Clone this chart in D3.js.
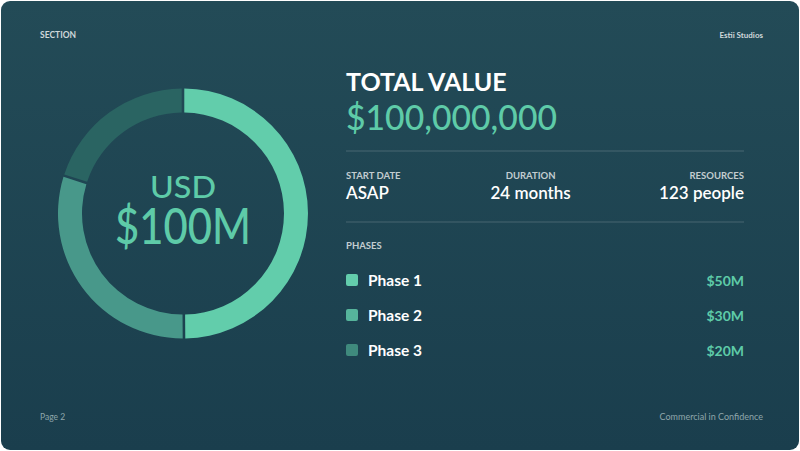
<!DOCTYPE html>
<html lang="en">
<head>
<meta charset="UTF-8">
<title>Total Value</title>
<script src="https://cdnjs.cloudflare.com/ajax/libs/d3/7.8.5/d3.min.js"></script>
<style>
    body { margin: 0; background: #ffffff; }
    svg { display: block; font-family: Lato, "Noto Sans", sans-serif; }
</style>
</head>
<body>
<svg id="chart" width="800" height="451"></svg>
<script>
    // data
    const phases = ["Phase 1", "Phase 2", "Phase 3"];
    const phaseValues = [50, 30, 20]; // $M
    const ringColors = ["#62cdab", "#48988a", "#2a6462"];
    const swatchColors = ["#63cdac", "#56b49b", "#3f8a7d"];
    const totalValue = 100000000;
    const statLabels = ["START DATE", "DURATION", "RESOURCES"];
    const statValues = ["ASAP", "24 months", "123 people"];

    const W = 800, H = 451;
    const green = "#5ecba8";
    const svg = d3.select("#chart");

    // card background
    const defs = svg.append("defs");
    const grad = defs.append("linearGradient")
        .attr("id", "bg").attr("x1", 0).attr("y1", 0).attr("x2", 0).attr("y2", 1);
    grad.append("stop").attr("offset", "0%").attr("stop-color", "#234b57");
    grad.append("stop").attr("offset", "100%").attr("stop-color", "#1a3e4d");

    svg.append("rect")
        .attr("x", 1).attr("y", 1)
        .attr("width", W - 2).attr("height", H - 2)
        .attr("rx", 9)
        .attr("fill", "url(#bg)");

    // header / footer
    svg.append("text").attr("x", 40).attr("y", 38)
        .attr("font-size", 8.5).attr("font-weight", 700).attr("fill", "#cfd8da")
        .text("SECTION");
    svg.append("text").attr("x", 763).attr("y", 38).attr("text-anchor", "end")
        .attr("font-size", 8).attr("font-weight", 700).attr("fill", "#cfd8da")
        .text("Estii Studios");
    svg.append("text").attr("x", 40).attr("y", 420)
        .attr("font-size", 8.5).attr("fill", "#8fa6ab")
        .text("Page 2");
    svg.append("text").attr("x", 763).attr("y", 420).attr("text-anchor", "end")
        .attr("font-size", 9).attr("fill", "#8fa6ab")
        .text("Commercial in Confidence");

    // donut
    const cx = 183, cy = 213.5;
    const pie = d3.pie().sort(null).value(d => d).padAngle(0.016);
    const arc = d3.arc().innerRadius(101).outerRadius(125);
    const ring = svg.append("g").attr("transform", `translate(${cx},${cy})`);

    ring.selectAll("path")
        .data(pie(phaseValues))
        .enter()
        .append("path")
        .attr("d", arc)
        .attr("fill", (d, i) => ringColors[i]);

    // centre label, two lines in one text element
    const centre = ring.append("text")
        .attr("text-anchor", "middle")
        .attr("font-weight", 500).attr("fill", green);
    centre.append("tspan")
        .attr("x", 0).attr("y", -15.5)
        .attr("font-size", 30)
        .attr("textLength", 66).attr("lengthAdjust", "spacingAndGlyphs")
        .text("USD");
    centre.append("tspan")
        .attr("x", 0).attr("y", 30.5)
        .attr("font-size", 50)
        .attr("textLength", 136).attr("lengthAdjust", "spacingAndGlyphs")
        .text("$" + d3.sum(phaseValues) + "M");

    // right panel
    const left = 346, right = 744;

    svg.append("text").attr("x", left).attr("y", 91)
        .attr("font-size", 25).attr("font-weight", 700).attr("fill", "#ffffff")
        .text("TOTAL VALUE");
    svg.append("text").attr("x", left).attr("y", 130)
        .attr("font-size", 35).attr("font-weight", 500).attr("fill", green)
        .attr("textLength", 211).attr("lengthAdjust", "spacingAndGlyphs")
        .text(d3.format("$,")(totalValue));

    [151, 222].forEach(y => {
        svg.append("line")
            .attr("x1", left).attr("x2", right)
            .attr("y1", y).attr("y2", y)
            .attr("stroke", "#ffffff").attr("stroke-opacity", 0.18);
    });

    // stats laid out like flex space-between
    const cols = svg.append("g").selectAll("g")
        .data(statLabels)
        .enter()
        .append("g");
    cols.append("text").attr("y", 179)
        .attr("font-size", 9.5).attr("font-weight", 700).attr("fill", "#c3cdd0")
        .text(d => d);
    cols.append("text").attr("y", 199)
        .attr("font-size", 17).attr("font-weight", 600).attr("fill", "#ffffff")
        .text((d, i) => statValues[i]);

    const widths = cols.nodes().map(n => n.getBBox().width);
    const gap = (right - left - d3.sum(widths)) / (widths.length - 1);
    let xPos = left;
    const anchors = ["start", "middle", "end"];
    cols.each(function (d, i) {
        const w = widths[i];
        const ax = anchors[i] === "start" ? xPos : anchors[i] === "middle" ? xPos + w / 2 : xPos + w;
        d3.select(this).selectAll("text").attr("x", ax).attr("text-anchor", anchors[i]);
        xPos += w + gap;
    });

    svg.append("text").attr("x", left).attr("y", 249)
        .attr("font-size", 9.5).attr("font-weight", 700).attr("fill", "#c3cdd0")
        .text("PHASES");

    const rowY = d3.scalePoint().domain(phases).range([280, 350]);
    const rows = svg.append("g").selectAll("g")
        .data(phases)
        .enter()
        .append("g")
        .attr("transform", d => `translate(0,${rowY(d)})`);

    rows.append("rect")
        .attr("x", left).attr("y", -6)
        .attr("width", 12).attr("height", 12).attr("rx", 2)
        .attr("fill", (d, i) => swatchColors[i]);
    rows.append("text")
        .attr("x", 368).attr("y", 5.5)
        .attr("font-size", 15.5).attr("font-weight", 700).attr("fill", "#ffffff")
        .text(d => d);
    rows.append("text")
        .attr("x", right).attr("y", 5.5).attr("text-anchor", "end")
        .attr("font-size", 14).attr("font-weight", 700).attr("fill", green)
        .text((d, i) => "$" + phaseValues[i] + "M");
</script>
</body>
</html>
